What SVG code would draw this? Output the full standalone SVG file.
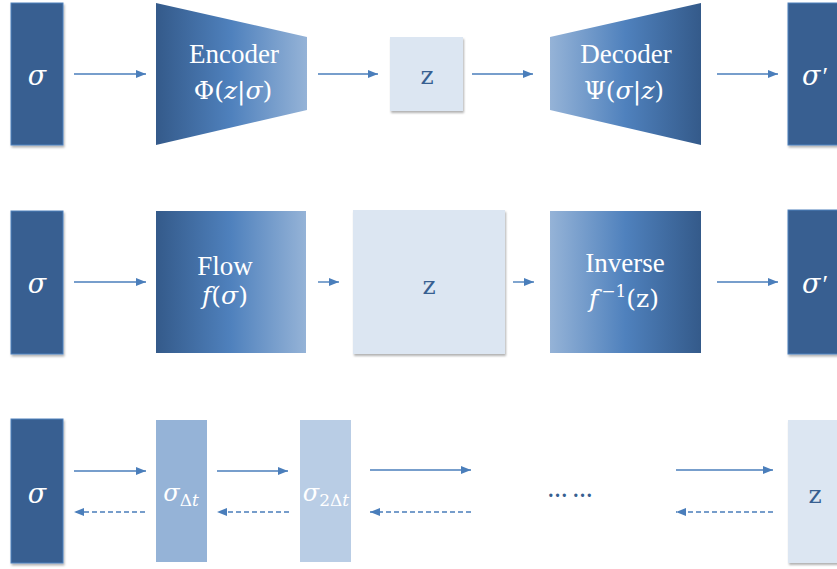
<svg xmlns="http://www.w3.org/2000/svg" width="837" height="569" viewBox="0 0 837 569">
  <defs>
    <linearGradient id="gL2R" x1="0" y1="0" x2="1" y2="0">
      <stop offset="0" stop-color="#345a8a"/>
      <stop offset="0.5" stop-color="#4f81bd"/>
      <stop offset="1" stop-color="#95b3d7"/>
    </linearGradient>
    <linearGradient id="gR2L" x1="1" y1="0" x2="0" y2="0">
      <stop offset="0" stop-color="#345a8a"/>
      <stop offset="0.5" stop-color="#4f81bd"/>
      <stop offset="1" stop-color="#95b3d7"/>
    </linearGradient>
    <filter id="sh" x="-10%" y="-10%" width="130%" height="130%">
      <feDropShadow dx="1" dy="2" stdDeviation="1.2" flood-color="#000" flood-opacity="0.3"/>
    </filter>
    <marker id="ah" markerWidth="10" markerHeight="8" refX="10" refY="4" orient="auto" markerUnits="userSpaceOnUse">
      <path d="M0,0 L10,4 L0,8 Z" fill="#4a7ebb"/>
    </marker>
  </defs>
  <style>
    .dark { fill: #375f91; stroke: #4f81bd; stroke-width: 1; }
    .pale { fill: #dce6f2; }
    .ln { stroke: #4a7ebb; stroke-width: 1.4; fill: none; marker-end: url(#ah); }
    .dash { stroke-dasharray: 5 3; }
    .w { fill: #ffffff; font-family: "Liberation Serif", "DejaVu Serif", serif; text-anchor: middle; }
    .b { fill: #375f91; font-family: "Liberation Serif", "DejaVu Serif", serif; text-anchor: middle; }
    .m { font-family: "DejaVu Serif", "Liberation Serif", serif; }
    .it { font-style: italic; }
    .up { font-style: normal; }
    .big { font-size: 27px; }
    .mt { font-size: 25px; }
    .sig { font-family: "DejaVu Serif", "Liberation Serif", serif; font-size: 27px; font-style: italic; }
    .zz { font-family: "DejaVu Serif", "Liberation Serif", serif; font-size: 25px; }
  </style>

  <!-- Row 1 -->
  <g id="r1-sigma">
    <rect class="dark" x="11" y="3" width="52" height="142" filter="url(#sh)"/>
    <text class="w sig" x="37" y="85">σ</text>
  </g>
  <g id="r1-encoder">
    <polygon points="156,3 307,37 307,110 156,145" fill="url(#gL2R)"/>
    <text class="w big" x="234" y="63">Encoder</text>
    <text class="w m mt" x="233" y="99">Φ(<tspan class="it">z</tspan>|<tspan class="it">σ</tspan>)</text>
  </g>
  <g id="r1-z">
    <rect class="pale" x="390" y="37" width="73" height="74" filter="url(#sh)"/>
    <text class="b zz" x="427" y="84">z</text>
  </g>
  <g id="r1-decoder">
    <polygon points="550,37 701,3 701,145 550,110" fill="url(#gR2L)"/>
    <text class="w big" x="626" y="63">Decoder</text>
    <text class="w m mt" x="624" y="99">Ψ(<tspan class="it">σ</tspan>|<tspan class="it">z</tspan>)</text>
  </g>
  <g id="r1-sigmap">
    <rect class="dark" x="788" y="3" width="55" height="142" filter="url(#sh)"/>
    <text class="w sig" x="815" y="85">σ<tspan class="up" font-family="Liberation Serif" font-size="26" dx="2">′</tspan></text>
  </g>

  <!-- Row 2 -->
  <g id="r2-sigma">
    <rect class="dark" x="11" y="211" width="52" height="143" filter="url(#sh)"/>
    <text class="w sig" x="37" y="293">σ</text>
  </g>
  <g id="r2-flow">
    <rect x="156" y="211" width="150" height="142" fill="url(#gL2R)"/>
    <text class="w big" x="225" y="275">Flow</text>
    <text class="w m mt" x="225" y="304"><tspan class="it">f</tspan>(<tspan class="it">σ</tspan>)</text>
  </g>
  <g id="r2-z">
    <rect class="pale" x="353" y="210" width="152" height="144" filter="url(#sh)"/>
    <text class="b zz" x="429" y="294">z</text>
  </g>
  <g id="r2-inverse">
    <rect x="550" y="211" width="151" height="142" fill="url(#gR2L)"/>
    <text class="w big" x="625" y="272">Inverse</text>
    <text class="w m mt" x="624" y="307"><tspan class="it">f</tspan><tspan font-size="17" dx="3" dy="-10">−1</tspan><tspan dy="10">(z)</tspan></text>
  </g>
  <g id="r2-sigmap">
    <rect class="dark" x="788" y="210" width="55" height="144" filter="url(#sh)"/>
    <text class="w sig" x="815" y="293">σ<tspan class="up" font-family="Liberation Serif" font-size="26" dx="2">′</tspan></text>
  </g>

  <!-- Row 3 -->
  <g id="r3-sigma">
    <rect class="dark" x="11" y="419" width="52" height="144" filter="url(#sh)"/>
    <text class="w sig" x="37" y="503">σ</text>
  </g>
  <g id="r3-s1">
    <rect x="156" y="420" width="51" height="142" fill="#95b3d7"/>
    <text class="w m" x="181" y="501" font-size="24"><tspan class="it">σ</tspan><tspan font-size="17" dy="5">Δ<tspan class="it">t</tspan></tspan></text>
  </g>
  <g id="r3-s2">
    <rect x="300" y="420" width="51" height="142" fill="#b9cde5"/>
    <text class="w m" x="326" y="501" font-size="24"><tspan class="it">σ</tspan><tspan font-size="17" dy="5">2Δ<tspan class="it">t</tspan></tspan></text>
  </g>
  <g id="r3-dots">
    <text class="b" x="570" y="497" font-size="20" font-weight="bold">… …</text>
  </g>
  <g id="r3-z">
    <rect class="pale" x="788" y="420" width="55" height="143" filter="url(#sh)"/>
    <text class="b zz" x="815" y="503">z</text>
  </g>

  <!-- Connectors -->
  <g id="connectors">
    <line class="ln" x1="74" y1="74" x2="146" y2="74"/>
    <line class="ln" x1="318" y1="74" x2="378" y2="74"/>
    <line class="ln" x1="472" y1="74" x2="533" y2="74"/>
    <line class="ln" x1="717" y1="74" x2="778" y2="74"/>

    <line class="ln" x1="74" y1="282" x2="146" y2="282"/>
    <line class="ln" x1="318" y1="282" x2="339" y2="282"/>
    <line class="ln" x1="513" y1="282" x2="534" y2="282"/>
    <line class="ln" x1="717" y1="282" x2="778" y2="282"/>

    <line class="ln" x1="74" y1="471" x2="146" y2="471"/>
    <line class="ln" x1="217" y1="471" x2="288" y2="471"/>
    <line class="ln" x1="370" y1="470" x2="471" y2="470"/>
    <line class="ln" x1="676" y1="470" x2="773" y2="470"/>

    <line class="ln dash" x1="145" y1="512" x2="74" y2="512"/>
    <line class="ln dash" x1="289" y1="512" x2="217" y2="512"/>
    <line class="ln dash" x1="471" y1="512" x2="370" y2="512"/>
    <line class="ln dash" x1="773" y1="512" x2="676" y2="512"/>
  </g>
</svg>
